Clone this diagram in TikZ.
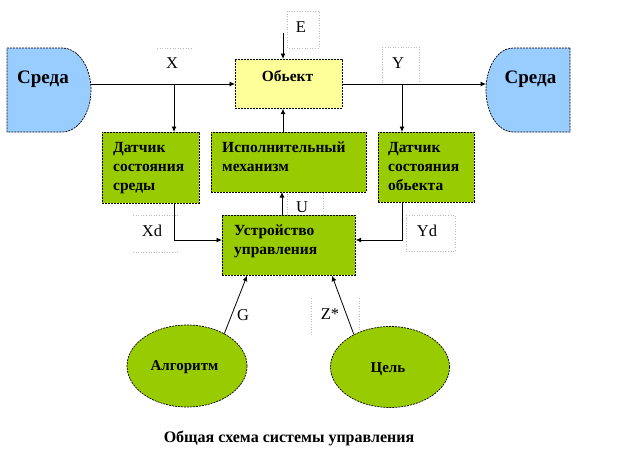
\documentclass[tikz,border=0pt]{standalone}
\usepackage{fontspec}
\setmainfont{Liberation Serif}
\usetikzlibrary{arrows.meta,calc,shapes.geometric}
\definecolor{grn}{HTML}{99CC00}
\definecolor{blu}{HTML}{99CCFF}
\definecolor{ylw}{HTML}{FFFF99}
\begin{document}
\begin{tikzpicture}[x=1pt,y=1pt,
  outl/.style={draw=black, dash pattern=on 2pt off 1pt, line width=0.7pt},
  box/.style={outl, inner sep=0pt, anchor=north west},
  oval/.style={outl, ellipse, inner sep=0pt, fill=grn},
  conn/.style={draw=black, line width=0.8pt, -{Latex[length=5.5pt,width=5pt]}},
  btext/.style={font=\fontsize{15.5}{19}\bfseries\selectfont, align=left, anchor=north west, inner sep=0pt},
  stext/.style={font=\fontsize{15.5}{18}\bfseries\selectfont, anchor=base, inner sep=0pt},
  otext/.style={font=\fontsize{15}{18}\bfseries\selectfont, anchor=base, inner sep=0pt},
  big/.style={font=\fontsize{19}{22}\bfseries\selectfont, anchor=base, inner sep=0pt},
  lbl/.style={font=\fontsize{16.5}{18}\selectfont, anchor=base, inner sep=0pt},
  lbox/.style={draw=gray!55, dotted, line width=0.6pt},
]
\useasboundingbox (0,0) rectangle (624,-464);

% environment shapes
\draw[outl, fill=blu] (7,-48) -- (62,-48) arc[start angle=90, end angle=-90, x radius=29, y radius=42] -- (7,-132) -- cycle;
\draw[outl, fill=blu] (570,-48) -- (513,-48) arc[start angle=90, end angle=270, x radius=27, y radius=42] -- (570,-132) -- cycle;
\coordinate (sredaL) at (91,-84);
\coordinate (sredaR) at (486,-84);
\node[big] (tsL) at (43,-83) {Среда};
\node[big] (tsR) at (530.5,-83) {Среда};

% label boxes
\draw[lbox] (287,-11) rectangle (319,-48);
\draw[lbox] (157,-48) -- (192,-48);
\draw[lbox] (382,-83) -- (382,-47) -- (419,-47) -- (419,-83);
\draw[lbox] (287,-215) -- (287,-192) -- (323,-192) -- (323,-215);
\draw[lbox] (133,-215) -- (178,-215);
\draw[lbox] (133,-252) -- (178,-252);
\draw[lbox] (406,-215) rectangle (455,-251);
\draw[lbox] (311,-298) -- (311,-335);
\draw[lbox] (359,-298) -- (359,-335);

% blocks
\node[box, fill=ylw, minimum width=107pt, minimum height=49pt] (obj) at (235,-59) {};
\node[box, fill=grn, minimum width=97pt, minimum height=71pt] (ds) at (102,-132) {};
\node[box, fill=grn, minimum width=155pt, minimum height=60pt] (im) at (211,-132) {};
\node[box, fill=grn, minimum width=96pt, minimum height=70pt] (do) at (378,-132) {};
\node[box, fill=grn, minimum width=133pt, minimum height=60pt] (uu) at (222,-215) {};
\node[oval, minimum width=120pt, minimum height=82pt] (alg) at (187,-366) {};
\node[oval, minimum width=119pt, minimum height=81pt] (goal) at (390,-367) {};

% block texts
\node[stext] (tobj) at (287.5,-81) {Обьект};
\node[btext] (tds) at (113,-142) {Датчик\\состояния\\среды};
\node[btext] (tim) at (222,-142) {Исполнительный\\механизм};
\node[btext] (tdo) at (388,-142) {Датчик\\состояния\\обьекта};
\node[btext] (tuu) at (234,-225) {Устройство\\управления};
\node[otext] (talg) at (184.5,-370) {Алгоритм};
\node[otext] (tgoal) at (388,-372) {Цель};

% signal labels
\node[lbl] (lX) at (172,-68) {X};
\node[lbl] (lE) at (301,-32) {E};
\node[lbl] (lY) at (398,-68) {Y};
\node[lbl] (lU) at (302,-212) {U};
\node[lbl] (lXd) at (152,-236) {Xd};
\node[lbl] (lYd) at (427,-236) {Yd};
\node[lbl] (lG) at (243,-320) {G};
\node[lbl] (lZ) at (330,-319) {Z*};

% connectors
\coordinate (bx) at (174,-84);
\coordinate (by) at (402,-84);
\coordinate (eTop) at (283,-33);
\coordinate (xdj) at (174,-240);
\coordinate (ydj) at (402,-240);
\draw[conn] (sredaL) -- (obj.west |- sredaL);
\draw[conn] (bx) -- (bx |- ds.north);
\draw[conn] (obj.east |- sredaR) -- (sredaR);
\draw[conn] (by) -- (by |- do.north);
\draw[conn] (eTop) -- (eTop |- obj.north);
\draw[conn] (eTop |- im.north) -- (eTop |- obj.south);
\draw[conn] (282,-215) -- (282,-192);
\draw[conn] (bx |- ds.south) -- (xdj) -- (xdj -| uu.west);
\draw[conn] (by |- do.south) -- (ydj) -- (ydj -| uu.east);
\draw[conn] (alg.41) -- ($(uu.south west)+(25,0)$);
\draw[conn] (goal.138) -- ($(uu.south west)+(110,0)$);

% caption
\node[stext, font=\fontsize{16}{18}\bfseries\selectfont] (cap) at (289,-442) {Общая схема системы управления};
\end{tikzpicture}
\end{document}
